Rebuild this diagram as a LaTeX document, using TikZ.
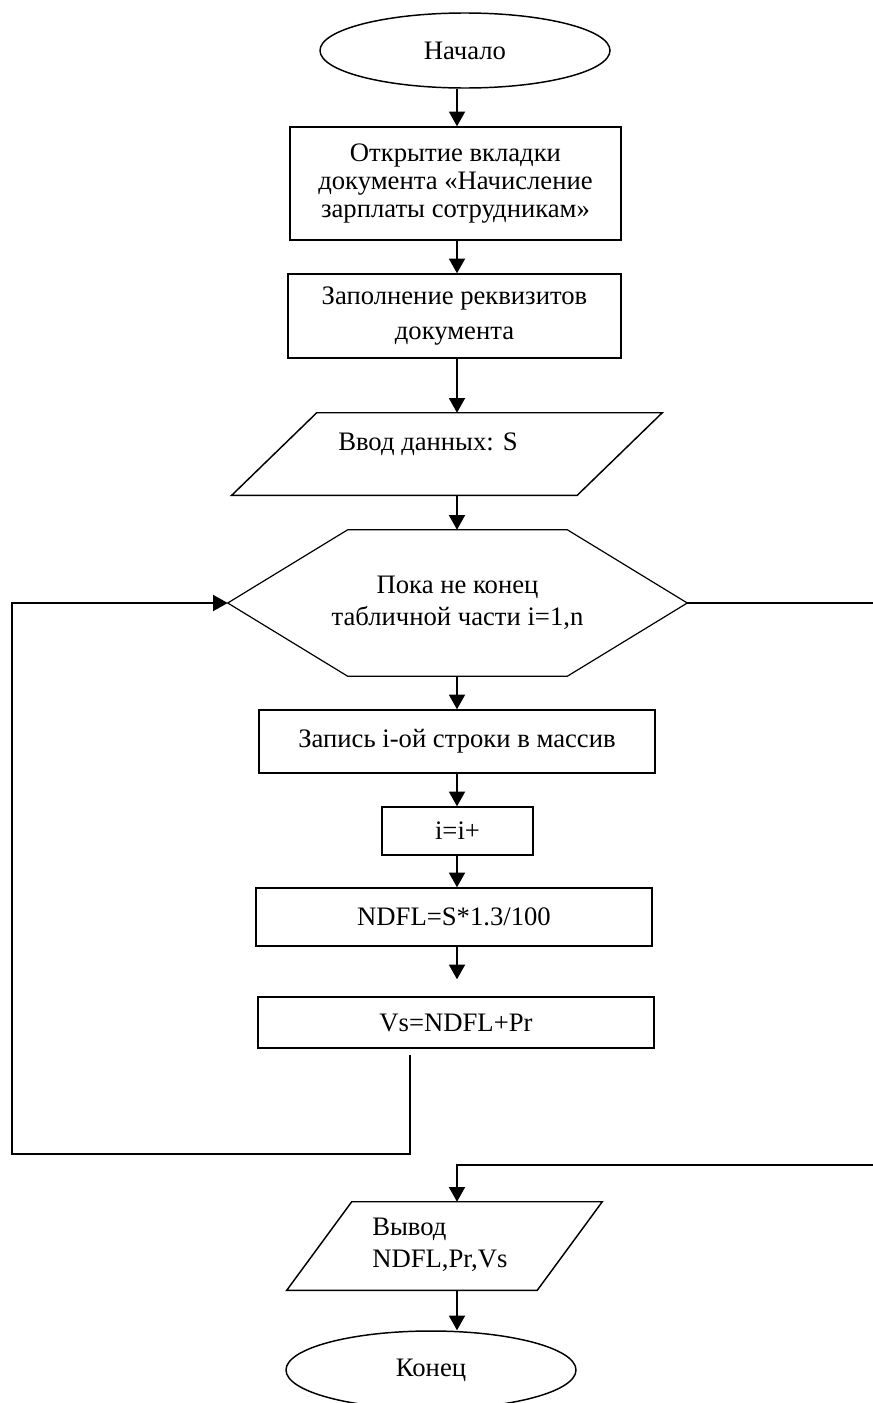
\documentclass[tikz,border=0pt]{standalone}
\usepackage{fontspec}
\setmainfont{Liberation Serif}
\usetikzlibrary{shapes.geometric,arrows.meta,calc}
\begin{document}
\begin{tikzpicture}[x=0.75pt,y=-0.75pt,
  every node/.style={font=\fontsize{20}{21}\selectfont, inner sep=0pt},
  shp/.style={line width=1.1pt},
  blk/.style args={#1x#2}{draw, rectangle, shp, align=center,
    minimum width=#1*0.75pt, minimum height=#2*0.75pt},
  term/.style args={#1x#2}{draw, ellipse, shp,
    minimum width=#1*0.75pt, minimum height=#2*0.75pt},
  frame/.style args={#1x#2}{rectangle,
    minimum width=#1*0.75pt, minimum height=#2*0.75pt},
  conn/.style={line width=1.4pt},
  arr/.style={conn, -{Triangle[length=11pt,width=12pt]}}
]
\useasboundingbox (0,0) rectangle (873,1403);

% vertical axis used by the main flow connectors
\coordinate (spine) at (457,0);

% blocks
\node[term=290x75] (start) at (465,50.5) {Начало};
\node[blk=331x113, font=\fontsize{20}{21}\selectfont] (r1) at (455.5,183.5)
  {Открытие вкладки\\документа «Начисление\\зарплаты сотрудникам»};
\node[blk=333x84, font=\fontsize{20}{26}\selectfont] (r2) at (454.5,316)
  {Заполнение реквизитов\\документа};

% input parallelogram
\node[frame=430x82] (inp) at (447,454) {};
\draw[shp] ($(inp.north west)+(85,0)$) -- (inp.north east)
  -- ($(inp.south east)+(-85,0)$) -- (inp.south west) -- cycle;
\node[anchor=base west] (inpt) at (338,450) {Ввод данных: S};

% loop header (hexagon)
\node[frame=459x146, align=center, font=\fontsize{20}{24}\selectfont] (loop) at (457.5,603)
  {Пока не конец\\табличной части i=1,n};
\draw[line width=0.9pt] (loop.west) -- ($(loop.north west)+(120,0)$)
  -- ($(loop.north east)+(-120,0)$) -- (loop.east)
  -- ($(loop.south east)+(-120,0)$) -- ($(loop.south west)+(120,0)$) -- cycle;

% loop body
\node[blk=396x63] (r3) at (457,741.5) {Запись i-ой строки в массив};
\node[blk=151x48] (r4) at (457.5,831) {i=i+};
\node[blk=396x58] (r5) at (454,917) {NDFL=S*1.3/100};
\node[blk=396x51] (r6) at (456,1022.5) {Vs=NDFL+Pr};

% output parallelogram
\node[frame=315x88] (out) at (444.5,1246) {};
\draw[shp] ($(out.north west)+(65,0)$) -- (out.north east)
  -- ($(out.south east)+(-65,0)$) -- (out.south west) -- cycle;
\node[anchor=base west] (outa) at (372,1235) {Вывод};
\node[anchor=base west] (outb) at (372,1267) {NDFL,Pr,Vs};

\node[term=290x78] (end) at (431,1370) {Конец};

% main flow
\draw[arr] (spine |- start.south) -- (spine |- r1.north);
\draw[arr] (spine |- r1.south) -- (spine |- r2.north);
\draw[arr] (spine |- r2.south) -- (spine |- inp.north);
\draw[arr] (spine |- inp.south) -- (spine |- loop.north);
\draw[arr] (spine |- loop.south) -- (spine |- r3.north);
\draw[arr] (spine |- r3.south) -- (spine |- r4.north);
\draw[arr] (spine |- r4.south) -- (spine |- r5.north);
\draw[arr, shorten >=12.75pt] (spine |- r5.south) -- (spine |- r6.north);

% return to the loop header
\coordinate (lb) at (410,1154);
\coordinate (ll) at (12,1154);
\draw[arr] ($(lb |- r6.south)+(0,6)$) -- (lb) -- (ll) -- (ll |- loop.west) -- (loop.west);

% loop exit
\coordinate (rr) at (880,1165);
\draw[arr] (loop.east) -- (loop.east -| rr) -- (rr) -- (spine |- rr) -- (spine |- out.north);

\draw[arr] (spine |- out.south) -- (spine |- end.north);
\end{tikzpicture}
\end{document}
